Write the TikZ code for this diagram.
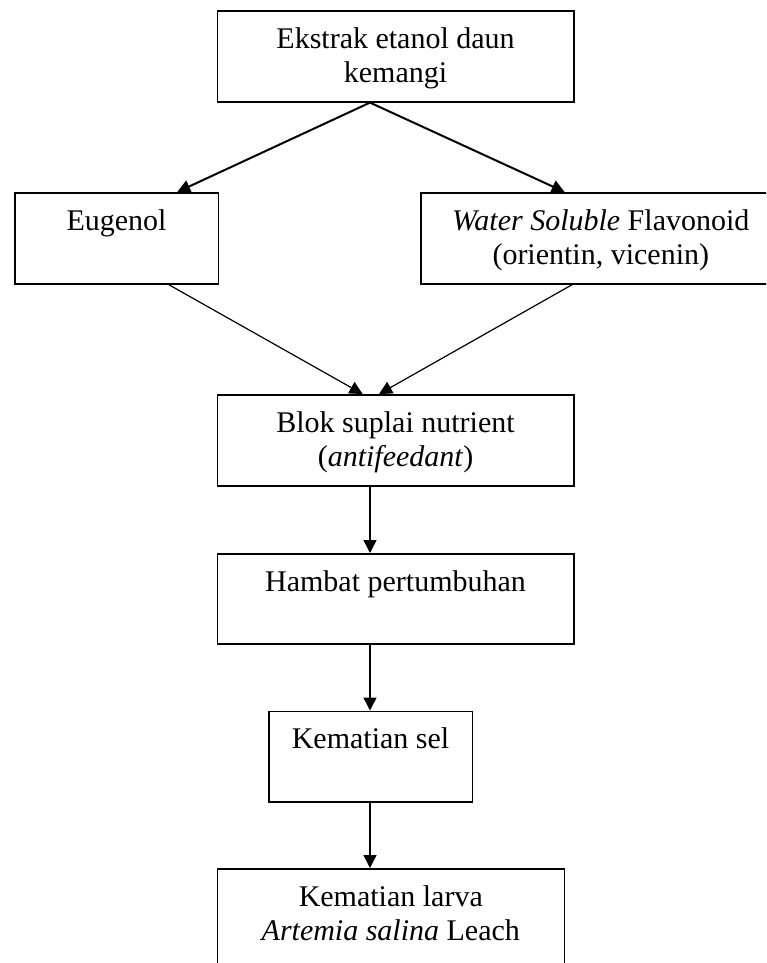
\documentclass[tikz,border=0pt]{standalone}
\usepackage{fontspec}
\setmainfont{Liberation Serif}
\usetikzlibrary{arrows.meta,calc}
\newcommand\bxt[2]{\parbox[t]{#1}{\centering #2}}
\tikzset{
  box/.style={draw, line width=1.6pt, anchor=north west, inner sep=0pt,
    text height=37.5pt, font=\fontsize{30}{34}\selectfont},
  arr/.style={-{Triangle[length=13pt,width=13pt]}, line width=1.5pt},
  arrthick/.style={arr, line width=2pt},
  arrthin/.style={arr, line width=1.2pt}
}
\begin{document}
\begin{tikzpicture}[x=1pt,y=-1pt]
\useasboundingbox (0,0) rectangle (766,963);
\clip (0,0) rectangle (766,963);
\coordinate (axis) at (370,0);
\node[box, minimum width=356.5pt, text depth=53pt] (b1) at (216.5,10.5)
  {\bxt{356.5pt}{Ekstrak etanol daun\\kemangi}};
\node[box, minimum width=203.5pt, text depth=53.5pt] (eug) at (14,192)
  {\bxt{203.5pt}{Eugenol}};
\node[box, minimum width=360pt, text depth=53.5pt] (flav) at (420,192)
  {\bxt{360pt}{\textit{Water Soluble} Flavonoid\\(orientin, vicenin)}};
\node[box, minimum width=356.5pt, text depth=53.5pt] (blok) at (216.5,394)
  {\bxt{356.5pt}{Blok suplai nutrient\\(\textit{antifeedant})}};
\node[box, minimum width=356.5pt, text depth=52.5pt] (ham) at (216.5,553)
  {\bxt{356.5pt}{Hambat pertumbuhan}};
\node[box, minimum width=203.5pt, text depth=53pt] (sel) at (268,710.5)
  {\bxt{203.5pt}{Kematian sel}};
\node[box, minimum width=347pt, text depth=90pt] (larva) at (216.5,868)
  {\bxt{347pt}{Kematian larva\\\textit{Artemia salina} Leach}};
% arrows
\draw[arrthick] (b1.south -| axis) -- ($(eug.north west)!0.796!(eug.north east)$);
\draw[arrthick] (b1.south -| axis) -- ($(flav.north west)!0.4!(flav.north east)$);
\draw[arrthin] ($(eug.south west)!0.754!(eug.south east)$) -- ($(blok.north west)!0.408!(blok.north east)$);
\draw[arrthin] ($(flav.south west)!0.421!(flav.south east)$) -- ($(blok.north west)!0.454!(blok.north east)$);
\draw[arr] (blok.south -| axis) -- (ham.north -| axis);
\draw[arr] (ham.south -| axis) -- (sel.north -| axis);
\draw[arr] (sel.south -| axis) -- (larva.north -| axis);
\end{tikzpicture}
\end{document}
